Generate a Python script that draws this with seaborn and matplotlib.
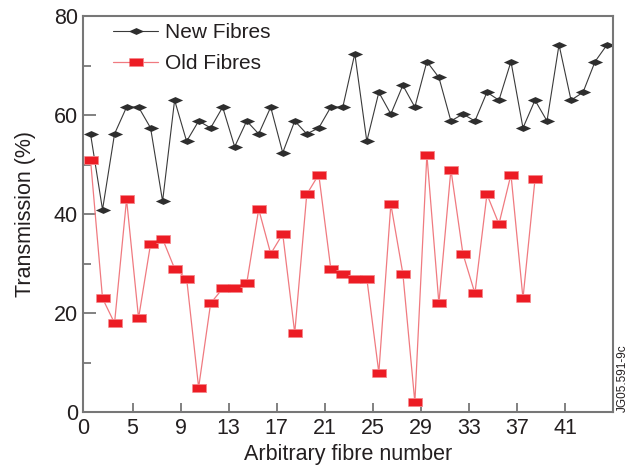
import numpy as np
import pandas as pd
import matplotlib
matplotlib.use("Agg")
import matplotlib.pyplot as plt
import seaborn as sns

# transmission values (%)
new_fibres = [56.2, 40.9, 56.2, 61.6, 61.6, 57.4, 42.6, 63.0, 54.7, 58.8,
              57.4, 61.6, 53.6, 58.8, 56.2, 61.6, 52.4, 58.8, 56.2, 57.4,
              61.6, 61.6, 72.4, 54.7, 64.6, 60.2, 66.0, 61.6, 70.8, 67.6,
              58.8, 60.2, 58.8, 64.6, 63.0, 70.8, 57.4, 63.0, 58.8, 74.2,
              63.0, 64.6, 70.8, 74.2]
old_fibres = [51, 23, 18, 43, 19, 34, 35, 29, 27, 5,
              22, 25, 25, 26, 41, 32, 36, 16, 44, 48,
              29, 28, 27, 27, 8, 42, 28, 2, 52, 22,
              49, 32, 24, 44, 38, 48, 23, 47]
x_ticks = [0, 5, 9, 13, 17, 21, 25, 29, 33, 37, 41]
y_ticks = [0, 20, 40, 60, 80]

sns.set_style("ticks")
plt.rcParams['font.family'] = ['Liberation Sans', 'DejaVu Sans']

new = pd.DataFrame({"fibre": np.arange(1, len(new_fibres) + 1) + 0.5, "T": new_fibres})
old = pd.DataFrame({"fibre": np.arange(1, len(old_fibres) + 1) + 0.5, "T": old_fibres})

diamond = [(-1, 0), (0, 0.45), (1, 0), (0, -0.45)]
rect = [(-1, -0.55), (1, -0.55), (1, 0.55), (-1, 0.55)]

fig = plt.figure(figsize=(6.34, 4.7), dpi=100)
ax = fig.add_axes([0.1314, 0.1228, 0.8356, 0.8432])

sns.lineplot(data=new, x="fibre", y="T", ax=ax, color="#3a3a3a", lw=0.8,
             marker=diamond, markersize=11, markeredgewidth=0,
             markerfacecolor="#2e2e2e", label="New Fibres")
sns.lineplot(data=old, x="fibre", y="T", ax=ax, color="#f07a80", lw=0.9,
             marker=rect, markersize=9.5, markeredgewidth=0.6,
             markerfacecolor="#ec1c24", markeredgecolor="#f5868b", label="Old Fibres")

ax.set_xlim(0.9, 45.0)
ax.set_ylim(0, 80)
xt = [0.9] + x_ticks[1:]
ax.set_xticks(xt)
ax.set_xticklabels([str(t) for t in x_ticks])
ax.set_yticks(y_ticks)
ax.set_yticks([10, 30, 50, 70], minor=True)
ax.tick_params(axis="both", direction="in", colors="#777777", labelcolor="#231f20",
               labelsize=15.5, width=1.3, pad=4)
ax.tick_params(axis="y", which="major", length=9)
ax.tick_params(axis="y", which="minor", length=5.5, direction="in", colors="#777777", width=1.3)
ax.tick_params(axis="x", which="major", length=6.5)
for s in ax.spines.values():
    s.set_visible(True)
    s.set_color("#777777")
    s.set_linewidth(1.5)

ax.set_xlabel("Arbitrary fibre number", fontsize=15.5, color="#231f20", labelpad=4)
ax.set_ylabel("Transmission (%)", fontsize=15.5, color="#231f20", labelpad=13)

leg = ax.legend(loc="upper left", frameon=False, fontsize=15, handlelength=2.2,
                bbox_to_anchor=(0.02, 1.03), labelspacing=0.6, handletextpad=0.3)
for t in leg.get_texts():
    t.set_color("#231f20")

fig.text(0.982, 0.123, "JG05.591-9c", rotation=90, fontsize=8.5, color="#231f20",
         ha="center", va="bottom")

fig.savefig("out.png", dpi=100)
